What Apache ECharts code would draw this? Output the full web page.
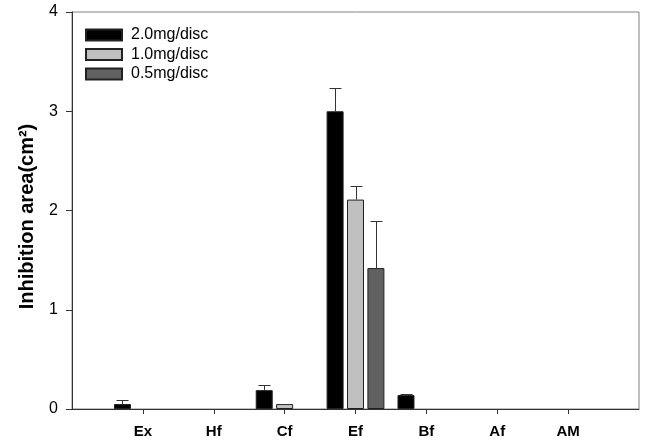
<!DOCTYPE html>
<html>
<head>
<meta charset="utf-8">
<script src="https://cdn.jsdelivr.net/npm/echarts@6/dist/echarts.min.js"></script>
<style>html,body{margin:0;padding:0;background:#fff;}#c{width:645px;height:441px;}</style>
</head>
<body>
<div id="c"></div>
<script>
const categories = ['Ex', 'Hf', 'Cf', 'Ef', 'Bf', 'Af', 'AM'];
const seriesNames = ['2.0mg/disc', '1.0mg/disc', '0.5mg/disc'];
const v20 = [0.05, null, 0.19, 3.00, 0.14, null, null];
const e20 = [0.045, null, 0.05, 0.23, 0.01, null, null];
const v10 = [null, null, 0.05, 2.11, null, null, null];
const e10 = [null, null, 0.005, 0.14, null, null, null];
const v05 = [null, null, null, 1.42, null, null, null];
const e05 = [null, null, null, 0.47, null, null, null];
const yTicks = [0, 1, 2, 3, 4];

const colors = ['#000000', '#c0c0c0', '#616161'];
const BAR_W = 17, BAR_GAP = 0.2;
const axisCats = [''].concat(categories, ['']);
const pad = arr => [null].concat(arr, [null]);
const values = [v20, v10, v05];
const errors = [e20, e10, e05];

const chart = echarts.init(document.getElementById('c'), null, {renderer: 'canvas'});

const series = [];
values.forEach((vals, i) => {
  series.push({
    name: seriesNames[i],
    type: 'bar',
    data: pad(vals),
    barWidth: BAR_W,
    barGap: (BAR_GAP * 100) + '%',
    itemStyle: {color: colors[i], borderColor: '#222', borderWidth: 1},
    emphasis: {disabled: true},
    z: 2
  });
});
values.forEach((vals, i) => {
  const offset = (i - 1) * BAR_W * (1 + BAR_GAP);
  const d = [];
  vals.forEach((v, k) => { if (v != null && errors[i][k] != null) d.push([k + 1, v, errors[i][k]]); });
  series.push({
    type: 'custom',
    data: d,
    z: 3,
    silent: true,
    renderItem: function (params, api) {
      const x = api.value(0), v = api.value(1), e = api.value(2);
      const base = api.coord([x, v]);
      const top = api.coord([x, v + e]);
      const cx = Math.round(base[0] + offset) + 0.5;
      const ty = Math.round(top[1]) + 0.5;
      const st = {stroke: '#333', lineWidth: 1};
      return {type: 'group', children: [
        {type: 'line', shape: {x1: cx, y1: base[1], x2: cx, y2: ty}, style: st},
        {type: 'line', shape: {x1: cx - 6, y1: ty, x2: cx + 6, y2: ty}, style: st}
      ]};
    }
  });
});

chart.setOption({
  animation: false,
  textStyle: {fontFamily: 'Liberation Sans, Arial, sans-serif'},
  grid: {left: 72, right: 6, top: 12, bottom: 32, show: true, borderColor: '#808080', borderWidth: 1},
  legend: {
    data: seriesNames,
    orient: 'vertical',
    left: 85, top: 26,
    padding: 0,
    itemWidth: 36, itemHeight: 11, itemGap: 1.5,
    icon: 'rect',
    selectedMode: false,
    textStyle: {fontSize: 16, lineHeight: 18, color: '#000', padding: [0, 0, 0, 4]}
  },
  xAxis: {
    type: 'category',
    data: axisCats,
    boundaryGap: false,
    axisLine: {lineStyle: {color: '#333', width: 1}},
    axisTick: {length: 5, lineStyle: {color: '#333'}, interval: function (i) { return i > 0 && i < axisCats.length - 1; }},
    axisLabel: {fontSize: 15, fontWeight: 'bold', color: '#000', margin: 15, interval: 0},
    splitLine: {show: false}
  },
  yAxis: {
    type: 'value',
    min: yTicks[0], max: yTicks[yTicks.length - 1], interval: 1,
    name: 'Inhibition area(cm²)',
    nameLocation: 'middle',
    nameGap: 35,
    nameTextStyle: {fontSize: 20, fontWeight: 'bold', color: '#000', padding: [0, 12, 0, 0]},
    axisLine: {show: true, lineStyle: {color: '#333', width: 1}},
    axisTick: {show: true, length: 6, lineStyle: {color: '#333'}},
    axisLabel: {fontSize: 16, color: '#000', margin: 14},
    splitLine: {show: false}
  },
  series: series
});
</script>
</body>
</html>
